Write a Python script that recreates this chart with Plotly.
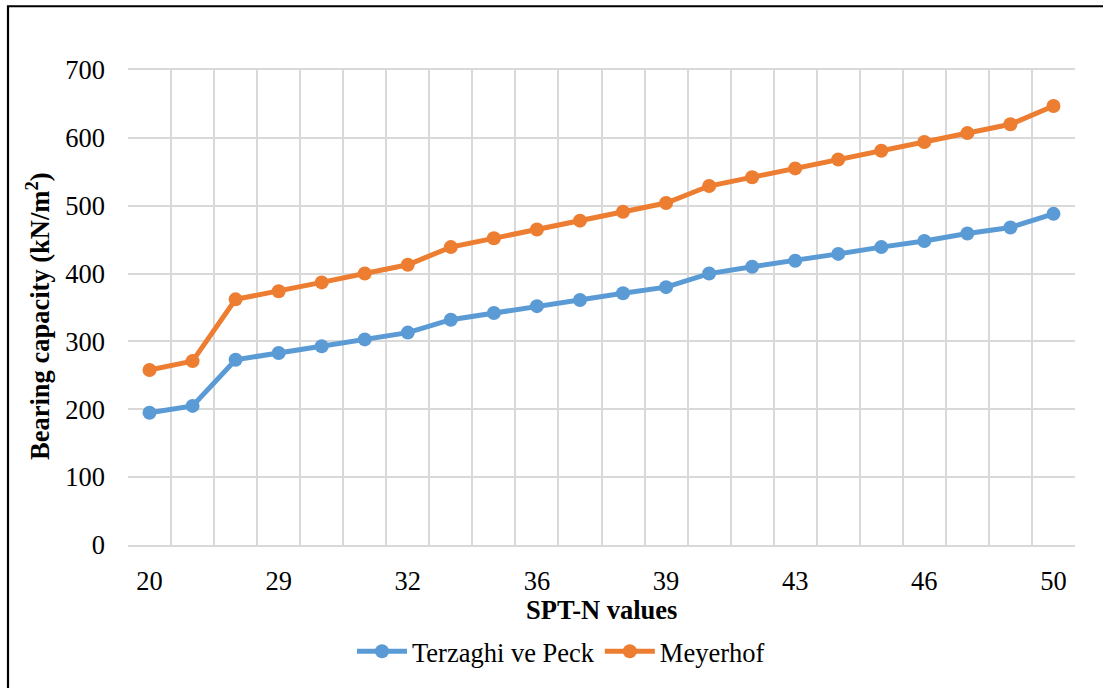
import plotly.graph_objects as go

spt_n = [20, 21, 28, 29, 30, 31, 32, 34, 35, 36, 37, 38, 39, 41, 42, 43, 44, 45, 46, 47, 48, 50]
terzaghi = [195, 205, 273, 283, 293, 303, 313, 332, 342, 352, 361, 371, 380, 400, 410, 419, 429, 439, 448, 459, 468, 488]
meyerhof = [258, 271, 362, 374, 387, 400, 413, 439, 452, 465, 478, 491, 504, 529, 542, 555, 568, 581, 594, 607, 620, 647]
y_ticks = [0, 100, 200, 300, 400, 500, 600, 700]

cats = [str(v) for v in spt_n]
tick_text = [c if i % 3 == 0 else "" for i, c in enumerate(cats)]

FONT = "Liberation Serif, Times New Roman, serif"
FS = 26.5
BLUE = "#5B9BD5"
ORANGE = "#ED7D31"

fig = go.Figure()
fig.add_trace(go.Scatter(x=cats, y=terzaghi, name="Terzaghi ve Peck", mode="lines+markers",
                         line=dict(color=BLUE, width=5), marker=dict(color=BLUE, size=14)))
fig.add_trace(go.Scatter(x=cats, y=meyerhof, name="Meyerhof", mode="lines+markers",
                         line=dict(color=ORANGE, width=5), marker=dict(color=ORANGE, size=14)))

W, H = 1103, 688
L, R, T, B = 128, 28, 70, 141
pw, ph = W - L - R, H - T - B

def px(xp):
    return (xp - L) / pw

def py(yp):
    return (H - B - yp) / ph

fig.update_layout(
    width=W, height=H,
    margin=dict(l=L, r=R, t=T, b=B),
    paper_bgcolor="white", plot_bgcolor="white",
    font=dict(family=FONT, size=FS, color="black"),
    showlegend=True,
    legend=dict(orientation="h", x=px(561), y=py(654), xanchor="center", yanchor="middle",
                font=dict(family=FONT, size=FS, color="black"), itemwidth=50,
                bgcolor="rgba(0,0,0,0)"),
    xaxis=dict(type="category", categoryorder="array", categoryarray=cats,
               tickmode="array", tickvals=cats, ticktext=tick_text, tickson="boundaries",
               showgrid=True, gridcolor="#D9D9D9", gridwidth=2,
               showline=True, linecolor="#D9D9D9", linewidth=2, mirror=True,
               ticks="", ticklabelstandoff=11,
               range=[-0.5, len(cats) - 0.5],
               tickfont=dict(family=FONT, size=FS, color="black"), zeroline=False),
    yaxis=dict(range=[0, 700], tickmode="array", tickvals=y_ticks,
               showgrid=True, gridcolor="#D9D9D9", gridwidth=2,
               showline=False, ticks="", ticklabelstandoff=22,
               tickfont=dict(family=FONT, size=FS, color="black"), zeroline=False),
    annotations=[
        dict(text="<b>SPT-N values</b>", x=px(601), y=py(612), xref="paper", yref="paper",
             xanchor="center", yanchor="middle", showarrow=False,
             font=dict(family=FONT, size=FS, color="black")),
        dict(text="<b>Bearing capacity (kN/m<sup>2</sup>)</b>", x=px(38), y=py(318), xref="paper", yref="paper",
             xanchor="center", yanchor="middle", showarrow=False, textangle=-90,
             font=dict(family=FONT, size=FS, color="black")),
    ],
    shapes=[
        dict(type="rect", xref="paper", yref="paper", x0=px(8), x1=px(1200), y0=py(800), y1=py(6),
             line=dict(color="black", width=2.2), fillcolor="rgba(0,0,0,0)", layer="above"),
    ],
)

fig.write_html("out.html", config={"displayModeBar": False},
               post_script="document.body.style.margin='0';document.body.style.overflow='hidden';")
